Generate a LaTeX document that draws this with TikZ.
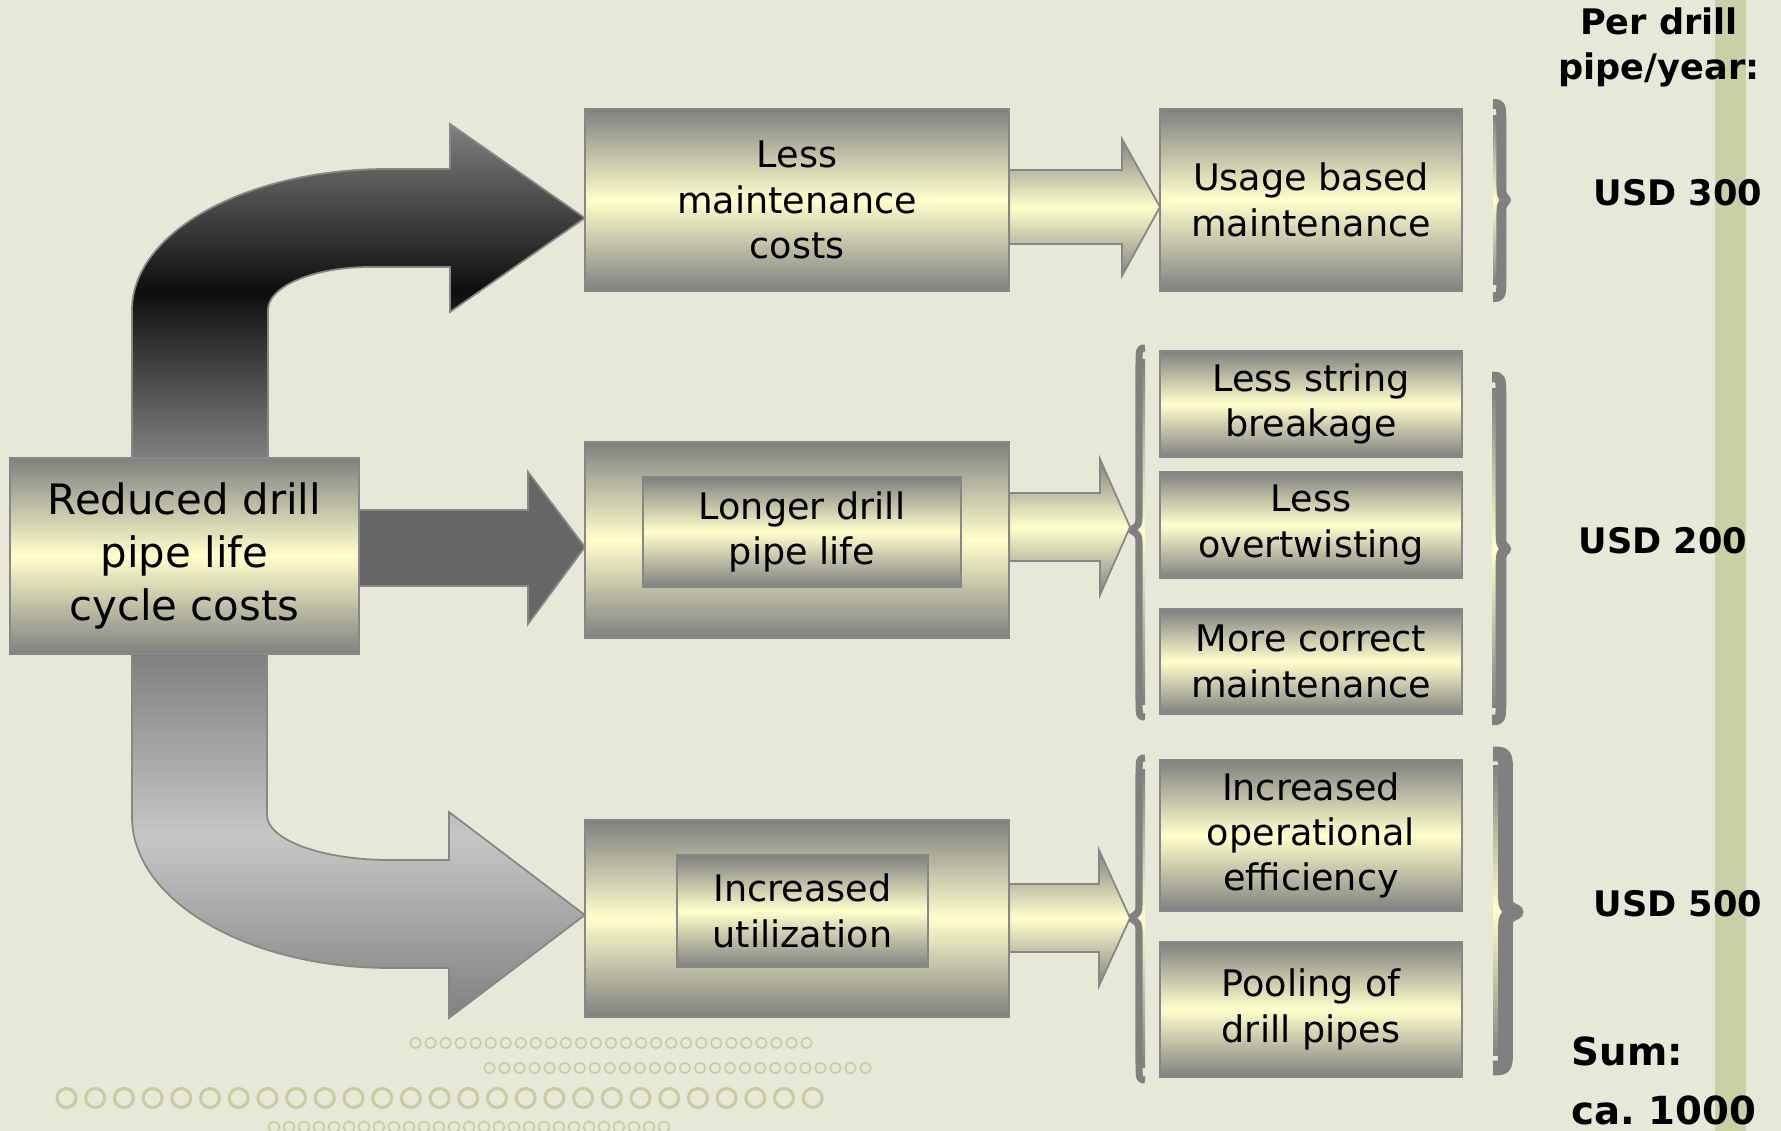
\documentclass[tikz,border=0pt]{standalone}
\usepackage{fontspec}
\setmainfont{DejaVu Sans}
\usetikzlibrary{calc}
\definecolor{bg}{RGB}{231,232,215}
\definecolor{stripe}{RGB}{203,207,166}
\definecolor{dotc}{RGB}{200,204,160}
\definecolor{gry}{RGB}{128,128,128}
\definecolor{cream}{RGB}{255,255,204}
\definecolor{bord}{RGB}{135,135,135}
\definecolor{darkg}{RGB}{102,102,102}
\definecolor{lightg}{RGB}{198,198,198}
\definecolor{nearblack}{RGB}{14,14,14}
% brace: #1 x inner, #2 x outer, #3 x tip, #4 top, #5 middle, #6 bottom, #7 stroke width
\newcommand\bracefig[7]{%
  \shade[top color=gry, bottom color=gry, middle color=cream]
    (#1,{#4+12}) rectangle ({#1+0.6*(#2-#1)},{#6-12});
  \draw[gry, line width=#7, line join=round]
    (#1,#4) .. controls ({#1+0.6*(#2-#1)},#4) .. ({#1+0.6*(#2-#1)},{#4+22})
    -- ({#1+0.6*(#2-#1)},{#5-16}) .. controls ({#1+0.6*(#2-#1)},{#5-5}) .. (#3,#5)
    .. controls ({#1+0.6*(#2-#1)},{#5+5}) .. ({#1+0.6*(#2-#1)},{#5+16})
    -- ({#1+0.6*(#2-#1)},{#6-22}) .. controls ({#1+0.6*(#2-#1)},#6) .. (#1,#6);
}
\begin{document}
\begin{tikzpicture}[x=0.01cm,y=-0.01cm,
  box/.style={draw=bord, line width=0.5pt, top color=gry, bottom color=gry,
    middle color=cream, inner sep=0pt, outer sep=0pt, align=center,
    font=\fontsize{10.4}{12.9}\selectfont},
  smallarrow/.style={draw=bord, line width=0.5pt, top color=gry, bottom color=gry, middle color=cream},
  darkarrow/.style={draw=bord, line width=0.5pt, top color=gry, bottom color=gry, middle color=nearblack},
  lightarrow/.style={draw=bord, line width=0.5pt, top color=gry, bottom color=gry, middle color=lightg},
  midarrow/.style={draw=bord, line width=0.5pt, fill=darkg},
  lbl/.style={font=\bfseries\fontsize{10}{12.8}\selectfont, align=center, inner sep=0pt},
  biglbl/.style={font=\bfseries\fontsize{11}{14}\selectfont, inner sep=0pt},
  dot/.style={draw=dotc, line width=0.45pt},
  bigdot/.style={draw=dotc, line width=0.85pt}]
\useasboundingbox (0,0) rectangle (1781,1131);
\fill[bg] (0,0) rectangle (1781,1131);
\fill[stripe] (1715,0) rectangle (1746,1131);

% decorative dots
\foreach \i in {0,...,26} \draw[dot] ({415.5+15.04*\i},1043) circle[radius=0.053cm];
\foreach \i in {0,...,25} \draw[dot] ({489.5+15.04*\i},1068) circle[radius=0.053cm];
\foreach \i in {0,...,26} \draw[bigdot] ({66.5+28.7*\i},1098) circle[radius=0.095cm];
\foreach \i in {0,...,26} \draw[dot] ({274+15*\i},1127) circle[radius=0.055cm];

% boxes
\node[box, minimum width=3.49cm, minimum height=1.96cm,
  font=\fontsize{11.9}{15.1}\selectfont] (red) at (184.5,556) {Reduced drill\\pipe life\\cycle costs};
\node[box, minimum width=4.24cm, minimum height=1.82cm] (lmc) at (797,200) {Less\\maintenance\\costs};
\node[box, minimum width=4.24cm, minimum height=1.96cm] (ldo) at (797,540) {};
\node[box, minimum width=3.18cm, minimum height=1.10cm] (ldi) at (802,532) {Longer drill\\pipe life};
\node[box, minimum width=4.24cm, minimum height=1.97cm] (iuo) at (797,918.5) {};
\node[box, minimum width=2.51cm, minimum height=1.12cm] (iui) at (802.5,911) {Increased\\utilization};

\node[box, minimum width=3.02cm, minimum height=1.82cm] (ubm) at (1311,200) {Usage based\\maintenance};
\node[box, minimum width=3.02cm, minimum height=1.06cm] (lsb) at (1311,404) {Less string\\breakage};
\node[box, minimum width=3.02cm, minimum height=1.06cm] (lot) at (1311,525) {Less\\overtwisting};
\node[box, minimum width=3.02cm, minimum height=1.05cm] (mcm) at (1311,661.5) {More correct\\maintenance};
\node[box, minimum width=3.02cm, minimum height=1.51cm] (iof) at (1311,835.5) {Increased\\operational\\efficiency};
\node[box, minimum width=3.02cm, minimum height=1.35cm] (pdp) at (1311,1009.5) {Pooling of\\drill pipes};

% big block arrows from the left box
\coordinate (tT) at ($(lmc.west)+(0,18)$);
\coordinate (mT) at ($(ldo.west)+(0,7)$);
\coordinate (bT) at ($(iuo.west)+(0,-3.5)$);
\path[darkarrow] ($(red.north west)+(122,0)$) -- (132,310)
  .. controls (132,232.1) and (246.6,169) .. (388,169) -- (450,169) -- (450,124)
  -- (tT) -- (450,312) -- (450,267) -- (370,267)
  .. controls (313.7,267) and (268,286.3) .. (268,310)
  -- ($(red.north west)+(258,0)$) -- cycle;
\path[lightarrow] ($(red.south west)+(122,0)$) -- (132,817)
  .. controls (132,900.4) and (247.5,968) .. (390,968) -- (449,968) -- (449,1018)
  -- (bT) -- (449,812) -- (449,860) -- (390,860)
  .. controls (322.1,860) and (267,839.9) .. (267,815)
  -- ($(red.south west)+(257,0)$) -- cycle;
\path[midarrow] ($(red.east)+(0,-46)$) -- (528,510) -- (528,472) -- (mT)
  -- (528,624) -- (528,586) -- ($(red.east)+(0,30)$) -- cycle;

% braces
\coordinate (bm) at (1130,527);
\coordinate (bb) at (1130,918);
\bracefig{1493}{1507}{1506}{104}{200}{297}{2.8pt}
\bracefig{1145}{1135}{1131}{348}{530}{717}{2pt}
\bracefig{1492}{1507}{1506}{377}{549}{720}{3pt}
\bracefig{1145}{1135}{1130}{758}{918}{1080}{2pt}
\bracefig{1493}{1514}{1516}{754}{912}{1068}{4.2pt}

% small block arrows
\path[smallarrow] ($(lmc.east)+(0,-30)$) -- (1122,170) -- (1122,139) -- ($(ubm.west)+(0,7)$)
  -- (1122,276) -- (1122,244) -- ($(lmc.east)+(0,44)$) -- cycle;
\path[smallarrow] ($(ldo.east)+(0,-47)$) -- (1100,493) -- (1100,459) -- (bm)
  -- (1100,595) -- (1100,561) -- ($(ldo.east)+(0,21)$) -- cycle;
\path[smallarrow] ($(iuo.east)+(0,-34.5)$) -- (1099,884) -- (1099,850) -- (bb)
  -- (1099,986) -- (1099,952) -- ($(iuo.east)+(0,33.5)$) -- cycle;

% right-hand labels
\node[lbl] (head) at (1659,47) {Per drill\\pipe/year:};
\node[lbl] (u300) at (1678,193) {USD 300};
\node[lbl] (u200) at (1663,541) {USD 200};
\node[lbl] (u500) at (1678,904) {USD 500};
\node[biglbl, anchor=base west] (sum) at (1571,1066) {Sum:};
\node[biglbl, anchor=base west] (tot) at (1571,1125) {ca.\ 1000};
\end{tikzpicture}
\end{document}
